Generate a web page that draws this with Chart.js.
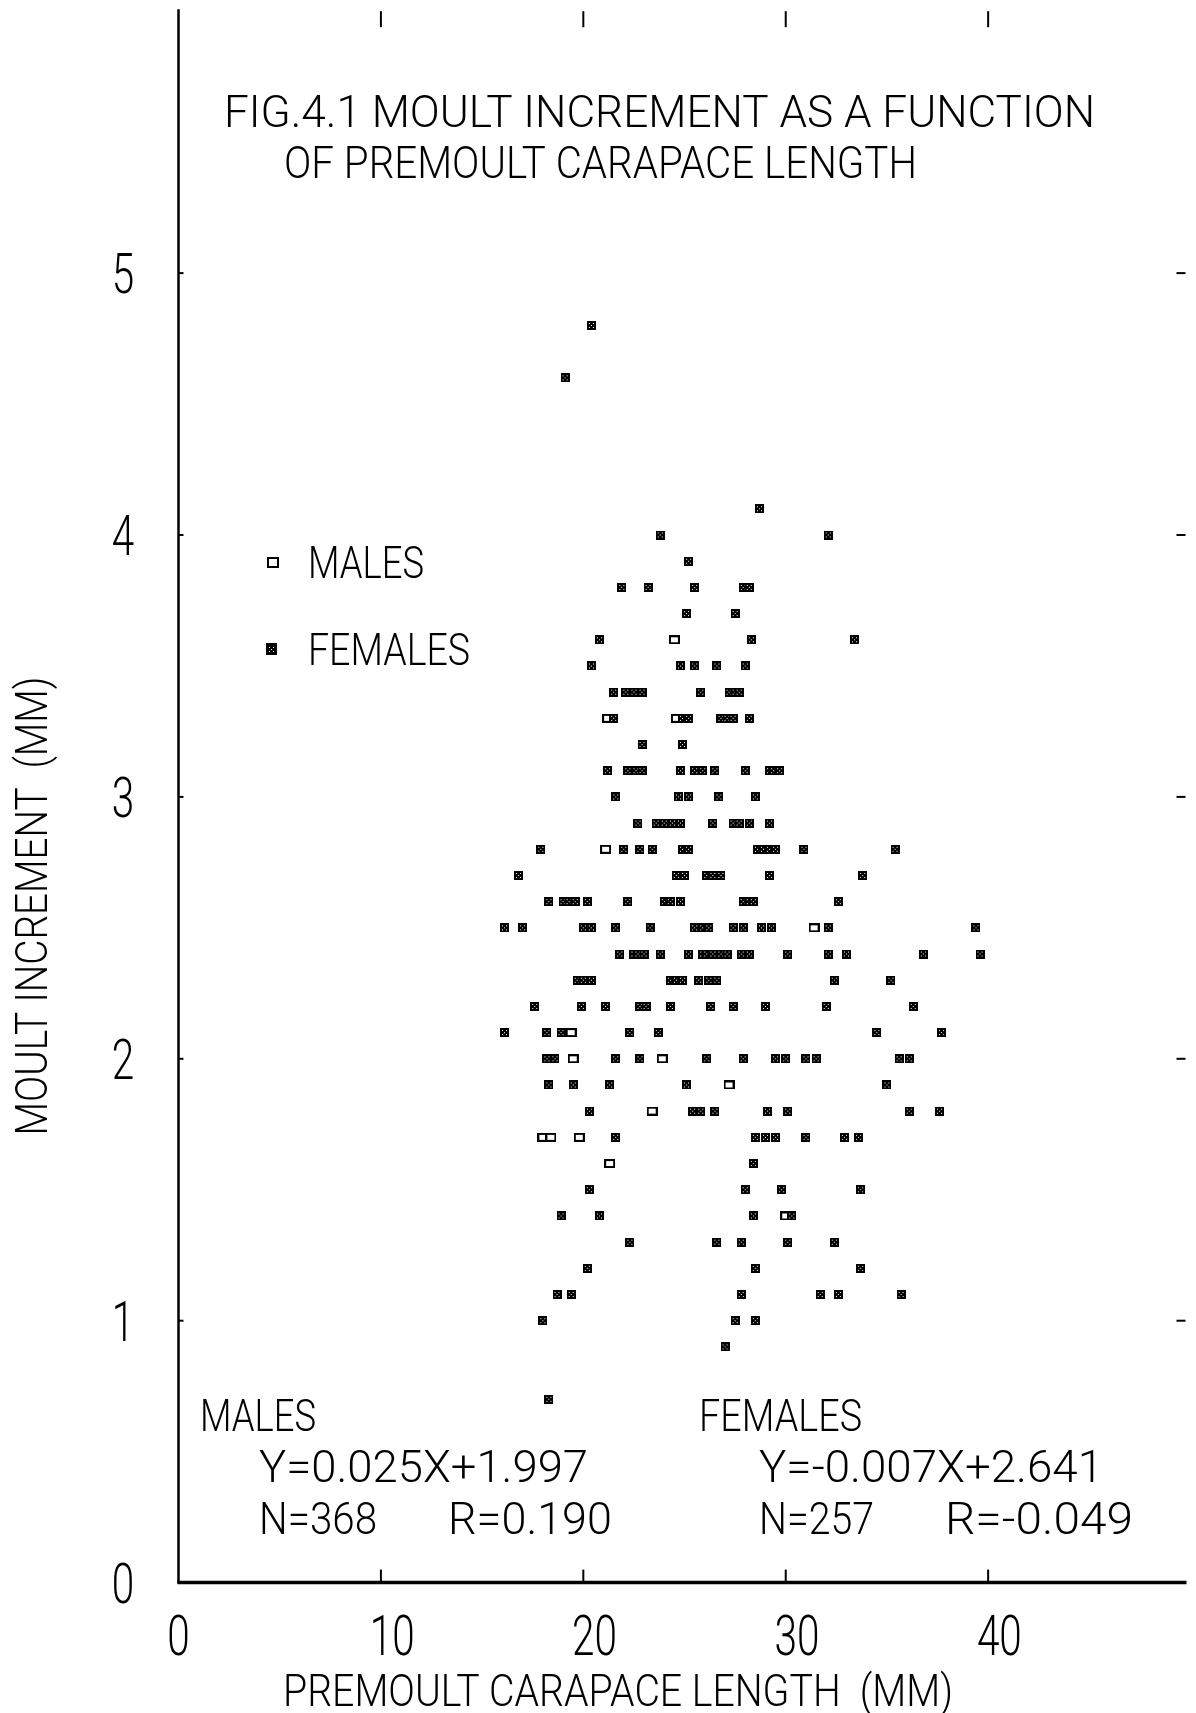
<!DOCTYPE html>
<html><head><meta charset="utf-8">
<script src="https://cdn.jsdelivr.net/npm/chart.js@4.4.1/dist/chart.umd.min.js"></script>
<style>html,body{margin:0;padding:0;background:#fff;}canvas{display:block}</style>
</head><body>
<div style="width:1196px;height:1713px"><canvas id="c" width="1196" height="1713"></canvas></div>
<script>
// ---------- data ----------
const xTickValues = [0, 10, 20, 30, 40];
const xTickLabels = ['0', '10', '20', '30', '40'];
const yTickValues = [0, 1, 2, 3, 4, 5];
const yTickLabels = ['0', '1', '2', '3', '4', '5'];
const seriesNames = ['MALES', 'FEMALES'];
const titleLines = ['FIG.4.1 MOULT INCREMENT AS A FUNCTION', 'OF PREMOULT CARAPACE LENGTH'];
const xTitle = 'PREMOULT CARAPACE LENGTH  (MM)';
const yTitle = 'MOULT INCREMENT  (MM)';
const maleStats = ['MALES', 'Y=0.025X+1.997', 'N=368', 'R=0.190'];
const femaleStats = ['FEMALES', 'Y=-0.007X+2.641', 'N=257', 'R=-0.049'];

// males (open squares visible in the plot)
const maleLength    = [24.5, 21.2, 24.6, 21.1, 31.4, 19.4, 19.5, 23.9, 27.2, 23.4, 18.0, 18.4, 19.8, 21.3, 30.0];
const maleIncrement = [3.6,  3.3,  3.3,  2.8,  2.5,  2.1,  2.0,  2.0,  1.9,  1.8,  1.7,  1.7,  1.7,  1.6,  1.4];

// females
const femaleLength = [
  20.4, 19.1, 28.7, 23.8, 32.1, 25.2,
  21.9, 23.2, 25.5, 27.9, 28.2,
  25.1, 27.5,
  20.8, 28.3, 33.4,
  20.4, 24.8, 25.5, 26.6, 28.0,
  21.5, 22.1, 22.5, 22.9, 25.8, 27.2, 27.5, 27.7,
  21.5, 24.9, 25.2, 26.8, 27.1, 27.4, 28.2,
  22.9, 24.9,
  21.2, 22.2, 22.6, 22.9, 24.8, 25.5, 25.9, 26.5, 28.0, 29.2, 29.4, 29.7,
  21.6, 24.7, 25.2, 26.7, 28.5,
  22.7, 23.6, 24.0, 24.4, 24.8, 26.4, 27.4, 27.7, 28.2, 29.2,
  17.9, 22.0, 22.8, 23.4, 24.9, 25.2, 28.6, 28.9, 29.2, 29.5, 30.9, 35.4,
  16.8, 24.6, 25.0, 26.1, 26.4, 26.8, 29.2, 33.8,
  18.3, 19.0, 19.3, 19.6, 20.2, 22.2, 24.0, 24.3, 24.8, 27.9, 28.2, 28.4, 32.6,
  16.1, 17.0, 20.0, 20.4, 21.6, 23.3, 25.5, 25.9, 26.2, 27.4, 27.9, 28.8, 29.3, 32.1, 39.4,
  21.8, 22.5, 22.7, 23.0, 23.8, 25.2, 25.9, 26.1, 26.4, 26.8, 27.1, 27.8, 28.2, 30.1, 32.1, 33.0, 36.8, 39.6,
  19.7, 20.0, 20.4, 24.3, 24.6, 24.9, 25.7, 26.2, 26.6, 32.4, 35.2,
  17.6, 19.9, 21.1, 22.8, 23.1, 24.3, 26.3, 27.4, 29.0, 32.0, 36.3,
  16.1, 18.2, 18.9, 22.3, 23.7, 34.5, 37.7,
  18.2, 18.6, 21.6, 22.8, 26.1, 27.9, 29.5, 30.0, 31.0, 31.5, 35.6, 36.1,
  18.3, 19.5, 21.3, 25.1, 35.0,
  20.3, 25.4, 25.8, 26.5, 29.1, 30.1, 36.1, 37.6,
  21.6, 28.5, 29.0, 29.5, 31.0, 32.9, 33.6,
  28.4,
  20.3, 28.0, 29.8, 33.7,
  18.9, 20.8, 28.4, 30.3,
  22.3, 26.6, 27.8, 30.1, 32.4,
  20.2, 28.5, 33.7,
  18.7, 19.4, 27.8, 31.7, 32.6, 35.7,
  18.0, 27.5, 28.5,
  27.0,
  18.3
];
const femaleIncrement = [
  4.8, 4.6, 4.1, 4.0, 4.0, 3.9,
  3.8, 3.8, 3.8, 3.8, 3.8,
  3.7, 3.7,
  3.6, 3.6, 3.6,
  3.5, 3.5, 3.5, 3.5, 3.5,
  3.4, 3.4, 3.4, 3.4, 3.4, 3.4, 3.4, 3.4,
  3.3, 3.3, 3.3, 3.3, 3.3, 3.3, 3.3,
  3.2, 3.2,
  3.1, 3.1, 3.1, 3.1, 3.1, 3.1, 3.1, 3.1, 3.1, 3.1, 3.1, 3.1,
  3.0, 3.0, 3.0, 3.0, 3.0,
  2.9, 2.9, 2.9, 2.9, 2.9, 2.9, 2.9, 2.9, 2.9, 2.9,
  2.8, 2.8, 2.8, 2.8, 2.8, 2.8, 2.8, 2.8, 2.8, 2.8, 2.8, 2.8,
  2.7, 2.7, 2.7, 2.7, 2.7, 2.7, 2.7, 2.7,
  2.6, 2.6, 2.6, 2.6, 2.6, 2.6, 2.6, 2.6, 2.6, 2.6, 2.6, 2.6, 2.6,
  2.5, 2.5, 2.5, 2.5, 2.5, 2.5, 2.5, 2.5, 2.5, 2.5, 2.5, 2.5, 2.5, 2.5, 2.5,
  2.4, 2.4, 2.4, 2.4, 2.4, 2.4, 2.4, 2.4, 2.4, 2.4, 2.4, 2.4, 2.4, 2.4, 2.4, 2.4, 2.4, 2.4,
  2.3, 2.3, 2.3, 2.3, 2.3, 2.3, 2.3, 2.3, 2.3, 2.3, 2.3,
  2.2, 2.2, 2.2, 2.2, 2.2, 2.2, 2.2, 2.2, 2.2, 2.2, 2.2,
  2.1, 2.1, 2.1, 2.1, 2.1, 2.1, 2.1,
  2.0, 2.0, 2.0, 2.0, 2.0, 2.0, 2.0, 2.0, 2.0, 2.0, 2.0, 2.0,
  1.9, 1.9, 1.9, 1.9, 1.9,
  1.8, 1.8, 1.8, 1.8, 1.8, 1.8, 1.8, 1.8,
  1.7, 1.7, 1.7, 1.7, 1.7, 1.7, 1.7,
  1.6,
  1.5, 1.5, 1.5, 1.5,
  1.4, 1.4, 1.4, 1.4,
  1.3, 1.3, 1.3, 1.3, 1.3,
  1.2, 1.2, 1.2,
  1.1, 1.1, 1.1, 1.1, 1.1, 1.1,
  1.0, 1.0, 1.0,
  0.9,
  0.7
];

// ---------- marker symbols ----------
function femaleMark(w, h) {
  const c = document.createElement('canvas'); c.width = w; c.height = h;
  const g = c.getContext('2d');
  g.fillStyle = '#000'; g.fillRect(0, 0, w, h);
  g.fillStyle = '#fff';
  const cx = Math.floor(w / 2), cy = Math.floor(h / 2);
  g.fillRect(cx - 2, cy - 2, 1, 1); g.fillRect(cx + 2, cy - 2, 1, 1);
  g.fillRect(cx - 2, cy + 2, 1, 1); g.fillRect(cx + 2, cy + 2, 1, 1);
  g.fillRect(cx, cy, 1, 1);
  return c;
}
function maleMark(w, h, lw) {
  const c = document.createElement('canvas'); c.width = w; c.height = h;
  const g = c.getContext('2d');
  g.fillStyle = '#000'; g.fillRect(0, 0, w, h);
  g.fillStyle = '#fff'; g.fillRect(lw, lw, w - 2 * lw, h - 2 * lw);
  return c;
}
const femaleSym = femaleMark(9, 9);
const maleSym = maleMark(11, 9, 2);
const femaleLegendSym = femaleMark(11, 12);
const maleLegendSym = maleMark(12, 11, 2);

// ---------- text helper ----------
const FONT_FAMILY = 'Roboto';
const FONT_WEIGHT = '300';
const CAP = 0.711;
function drawText(ctx, txt, x, yMid, capH, targetW, align, rot, sxFixed) {
  const size = capH / CAP;
  ctx.save();
  ctx.font = FONT_WEIGHT + ' ' + size + 'px ' + FONT_FAMILY;
  const w = ctx.measureText(txt).width;
  const sx = targetW ? targetW / w : sxFixed;
  ctx.translate(x, yMid);
  if (rot) ctx.rotate(rot);
  ctx.scale(sx, 1);
  ctx.textAlign = align || 'left';
  ctx.textBaseline = 'alphabetic';
  ctx.fillStyle = '#000';
  ctx.fillText(txt, 0, capH / 2);
  ctx.restore();
  return w * sx;
}

const decor = {
  id: 'decor',
  afterDatasetsDraw(chart) {
    const ctx = chart.ctx;
    const xs = chart.scales.x, ys = chart.scales.y;
    const L = xs.left, R = xs.right, T = ys.top, B = ys.bottom;
    ctx.save();
    ctx.strokeStyle = '#000';
    ctx.lineCap = 'butt';
    // axes
    ctx.lineWidth = 2.5;
    ctx.beginPath(); ctx.moveTo(L, T - 2); ctx.lineTo(L, B + 1); ctx.stroke();
    ctx.lineWidth = 3.5;
    ctx.beginPath(); ctx.moveTo(L - 1, B); ctx.lineTo(R, B); ctx.stroke();
    // x ticks (bottom, inward) and top ticks
    ctx.lineWidth = 2;
    xTickValues.forEach(v => {
      if (v === 0) return;
      const px = xs.getPixelForValue(v);
      ctx.beginPath(); ctx.moveTo(px, B); ctx.lineTo(px, B - 13); ctx.stroke();
      ctx.beginPath(); ctx.moveTo(px, T); ctx.lineTo(px, T + 16); ctx.stroke();
    });
    // y ticks (left inward) and right dashes
    yTickValues.forEach(v => {
      if (v === 0) return;
      const py = ys.getPixelForValue(v);
      ctx.beginPath(); ctx.moveTo(L, py); ctx.lineTo(L + 5, py); ctx.stroke();
      ctx.beginPath(); ctx.moveTo(R - 10, py); ctx.lineTo(R - 1, py); ctx.stroke();
    });
    ctx.restore();

    // tick labels
    const tickCap = 40, tickSx = 0.72;
    ctx.save();
    ctx.font = FONT_WEIGHT + ' ' + (tickCap / CAP) + 'px ' + FONT_FAMILY;
    xTickValues.forEach((v, i) => {
      const px = xs.getPixelForValue(v);
      const first = ctx.measureText(xTickLabels[i][0]).width * tickSx;
      drawText(ctx, xTickLabels[i], px - first / 2, 1635, tickCap, null, 'left', 0, tickSx);
    });
    yTickValues.forEach((v, i) => {
      const py = ys.getPixelForValue(v);
      drawText(ctx, yTickLabels[i], 123, py, tickCap, null, 'center', 0, tickSx);
    });
    ctx.restore();

    // axis titles
    drawText(ctx, xTitle, 283, 1690, 32, 670, 'left');
    drawText(ctx, yTitle, 31, 906, 32, 459, 'center', -Math.PI / 2);

    // figure title
    drawText(ctx, titleLines[0], 224, 111, 31, 871, 'left');
    drawText(ctx, titleLines[1], 284, 162, 31, 633, 'left');

    // legend
    const ds = chart.data.datasets;
    ctx.drawImage(maleLegendSym, 273 - 6, 562 - 5);
    ctx.drawImage(femaleLegendSym, 271 - 5, 649 - 6);
    drawText(ctx, ds[0].label, 308, 562, 31, 116, 'left');
    drawText(ctx, ds[1].label, 308, 649, 31, 162, 'left');

    // regression statistics
    drawText(ctx, maleStats[0], 200, 1415, 31, 116, 'left');
    drawText(ctx, maleStats[1], 259, 1466, 31, 329, 'left');
    drawText(ctx, maleStats[2], 259, 1518, 31, 118, 'left');
    drawText(ctx, maleStats[3], 448, 1518, 31, 164, 'left');
    drawText(ctx, femaleStats[0], 699, 1415, 31, 163, 'left');
    drawText(ctx, femaleStats[1], 759, 1466, 31, 344, 'left');
    drawText(ctx, femaleStats[2], 759, 1518, 31, 115, 'left');
    drawText(ctx, femaleStats[3], 945, 1518, 31, 188, 'left');
  }
};

const toPoints = (xs, ys) => xs.map((x, i) => ({ x: x, y: ys[i] }));

new Chart(document.getElementById('c'), {
  type: 'scatter',
  data: {
    datasets: [
      { label: seriesNames[0], data: toPoints(maleLength, maleIncrement), pointStyle: maleSym, pointRadius: 4, order: 1 },
      { label: seriesNames[1], data: toPoints(femaleLength, femaleIncrement), pointStyle: femaleSym, pointRadius: 4, order: 0 }
    ]
  },
  options: {
    responsive: false,
    animation: false,
    devicePixelRatio: 1,
    layout: { padding: { left: 178.5, right: 9.5, top: 11.2, bottom: 130.4 } },
    plugins: { legend: { display: false }, tooltip: { enabled: false }, title: { display: false } },
    scales: {
      x: {
        type: 'linear', min: 0, max: 49.8,
        ticks: { display: false }, grid: { display: false }, border: { display: false },
        afterFit(s) { s.height = 0; }
      },
      y: {
        type: 'linear', min: 0, max: 6,
        ticks: { display: false }, grid: { display: false }, border: { display: false },
        afterFit(s) { s.width = 0; }
      }
    }
  },
  plugins: [decor]
});
</script>
</body></html>
